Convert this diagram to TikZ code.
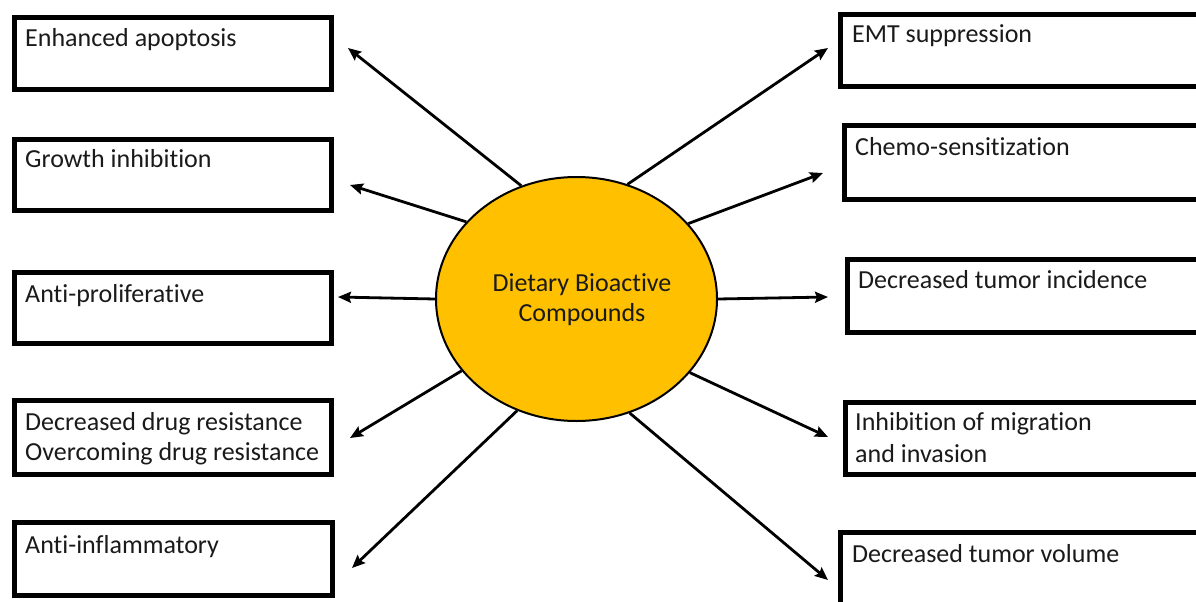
\documentclass[tikz,border=0pt]{standalone}
\usepackage{fontspec}
\setmainfont{Carlito}[Ligatures={CommonOff}]
\usetikzlibrary{shapes.geometric,arrows.meta}
\definecolor{gold}{HTML}{FFC000}
\definecolor{txtc}{HTML}{1A1A1A}
\begin{document}
\begin{tikzpicture}[x=1pt,y=-1pt,
  box/.style={draw=black,line width=5pt,rectangle,inner sep=0pt,outer sep=0pt,fill=white},
  txt/.style={anchor=base west,inner sep=0pt,text=txtc,font=\fontsize{26}{30}\selectfont,align=left},
  ctxt/.style={inner sep=0pt,text=txtc,font=\fontsize{26}{30}\selectfont,align=center},
  arr/.style={line width=2.8pt,-{Stealth[length=13pt,width=11pt,inset=2pt]}}]
\useasboundingbox (0,0) rectangle (1196,602);
\clip (0,0) rectangle (1196,602);
\fill[white] (0,0) rectangle (1196,602);
% left boxes
\node[box,minimum width=316.5pt,minimum height=72pt] (L1) at (172.75,53.5) {};
\node[box,minimum width=316.5pt,minimum height=71pt] (L2) at (172.75,175) {};
\node[box,minimum width=316.5pt,minimum height=71pt] (L3) at (172.75,308) {};
\node[box,minimum width=316.5pt,minimum height=74pt] (L4) at (172.75,437.5) {};
\node[box,minimum width=318pt,minimum height=73pt] (L5) at (173.5,559) {};
% right boxes
\node[box,minimum width=389.5pt,minimum height=72pt] (R1) at (1035.25,50.5) {};
\node[box,minimum width=385.5pt,minimum height=74pt] (R2) at (1037.25,162.5) {};
\node[box,minimum width=382.5pt,minimum height=73pt] (R3) at (1038.75,296) {};
\node[box,minimum width=384.5pt,minimum height=72pt] (R4) at (1037.75,438.5) {};
\node[box,minimum width=389.5pt,minimum height=87.5pt] (R5) at (1035.25,576.25) {};
% texts
\node[txt] (L1t) at (25,47) {Enhanced apoptosis};
\node[txt] (L2t) at (25,167) {Growth inhibition};
\node[txt] (L3t) at (25,302) {Anti-proliferative};
\node[txt] (L4t) at (25,430) {Decreased drug resistance};
\node[txt] (L4u) at (25,460) {Overcoming drug resistance};
\node[txt] (L5t) at (25,553) {Anti-inflammatory};
\node[txt] (R1t) at (852,43) {EMT suppression};
\node[txt] (R2t) at (855,155) {Chemo-sensitization};
\node[txt] (R3t) at (858,288) {Decreased tumor incidence};
\node[txt] (R4t) at (855,430) {Inhibition of migration};
\node[txt] (R4u) at (855,462) {and invasion};
\node[txt] (R5t) at (852,562) {Decreased tumor volume};
% centre
\node[ellipse,draw=black,line width=2pt,fill=gold,minimum width=281pt,minimum height=244pt,inner sep=0pt] (E) at (576.5,299) {};
\node[ctxt] (Et) at (582,300) {Dietary Bioactive\\Compounds};
% arrow tips
\coordinate (tL1) at (348,48);
\coordinate (tL2) at (350,185);
\coordinate (tL3) at (338,297);
\coordinate (tL4) at (350,438);
\coordinate (tL5) at (352,568);
\coordinate (tR1) at (828,48);
\coordinate (tR2) at (823,173);
\coordinate (tR3) at (828,297);
\coordinate (tR4) at (828,437);
\coordinate (tR5) at (828,580);
\draw[arr] (E.116) -- (tL1);
\draw[arr] (E.145.1) -- (tL2);
\draw[arr] (E.180) -- (tL3);
\draw[arr] (E.212.5) -- (tL4);
\draw[arr] (E.242.6) -- (tL5);
\draw[arr] (E.66.5) -- (tR1);
\draw[arr] (E.34.6) -- (tR2);
\draw[arr] (E.0) -- (tR3);
\draw[arr] (E.327) -- (tR4);
\draw[arr] (E.295.3) -- (tR5);
\end{tikzpicture}
\end{document}
